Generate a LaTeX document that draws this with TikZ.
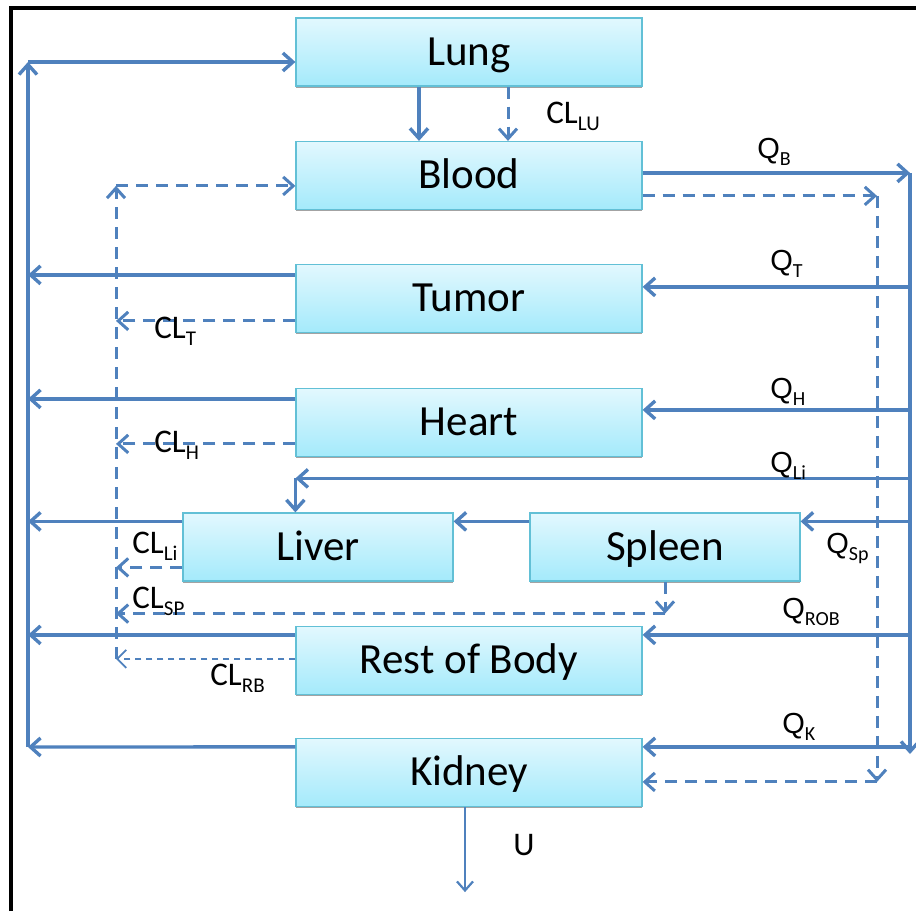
\documentclass[tikz,border=0pt]{standalone}
\usepackage{fontspec}
\setmainfont{Carlito}
\newfontfamily\arialf{Liberation Sans}
\usetikzlibrary{arrows.meta,shadows}
\definecolor{arrowblue}{HTML}{4F81BD}
\definecolor{boxtop}{HTML}{E2F8FE}
\definecolor{boxbot}{HTML}{A4EAFB}
\definecolor{boxline}{HTML}{62C0D6}
\newcommand{\cllab}[2]{#1\raisebox{-3.5pt}{\fontsize{10.5}{10}\selectfont #2}}
\newcommand{\qlab}[2]{{\arialf #1}\raisebox{-3.5pt}{\fontsize{10}{10}\selectfont #2}}
\tikzset{
  organ/.style={rectangle, top color=boxtop, bottom color=boxbot, draw=boxline,
    line width=0.6pt, minimum height=34pt, inner sep=0pt,
    text height=16pt, text depth=2.7pt,
    font=\fontsize{21.5}{24}\selectfont,
    drop shadow={shadow xshift=0pt, shadow yshift=-0.9pt, fill=black!45, opacity=0.8}},
  wide/.style={organ, minimum width=173pt},
  narrow/.style={organ, minimum width=135pt},
  arr/.style={draw=arrowblue, line width=1.7pt, -{Straight Barb[length=5pt,width=9pt]}},
  darr/.style={arr, line width=1.5pt, dash pattern=on 6pt off 4pt},
  tarr/.style={draw=arrowblue, line width=0.9pt, dash pattern=on 3pt off 2.5pt, -{Straight Barb[length=4.5pt,width=9pt]}},
  karr/.style={draw=arrowblue, line width=1.1pt, -{Straight Barb[length=4.5pt,width=8pt]}},
  clabel/.style={anchor=base west, inner sep=0pt, font=\fontsize{16.5}{16}\selectfont},
  qlabel/.style={anchor=base west, inner sep=0pt, font=\fontsize{14.5}{14}\selectfont},
}
\begin{document}
\begin{tikzpicture}[x=0.5pt, y=-0.5pt]
\useasboundingbox (0,0) rectangle (916,911);
% frame
\draw[line width=1.6pt, black] (11,911) -- (11,8) -- (916,8);

% organs
\node[wide] (Lung) at (469,52) {Lung};
\node[wide] (Blood) at (469,175.5) {Blood};
\node[wide] (Tumor) at (469,298.5) {Tumor};
\node[wide] (Heart) at (469,422.5) {Heart};
\node[narrow] (Liver) at (318,547) {Liver};
\node[narrow] (Spleen) at (665,547) {Spleen};
\node[wide] (ROB) at (469,660.5) {Rest of Body};
\node[wide] (Kidney) at (469,772.5) {Kidney};

% reference lines
\coordinate (Ltop) at (28,62);
\coordinate (Lbot) at (28,747);
\coordinate (Rtop) at (910,173);
\coordinate (Rbot) at (910,754);
\coordinate (D) at (116,0);
\coordinate (RD) at (877,0);

% lung -> blood
\draw[arr] ([xshift=-25pt]Lung.south) -- ([xshift=-25pt]Blood.north);
\draw[darr] ([xshift=19.5pt]Lung.south) -- ([xshift=19.5pt]Blood.north);

% left venous return
\draw[arr] ([yshift=-4.5pt]Kidney.north west) coordinate (k1) -- (Lbot);
\draw[arr] (Lbot) -- (Ltop);
\draw[arr] (Ltop) -- (Lung.west |- Ltop);
\draw[arr] ([yshift=-5.5pt]Tumor.north west) coordinate (t1) -- (t1 -| Ltop);
\draw[arr] ([yshift=-5.5pt]Heart.north west) coordinate (h1) -- (h1 -| Ltop);
\draw[arr] ([yshift=-4.5pt]Liver.north west) coordinate (l1) -- (l1 -| Ltop);
\draw[arr] ([yshift=-4.5pt]ROB.north west) coordinate (r1) -- (r1 -| Ltop);

% arterial supply (right)
\draw[arr] ([yshift=-16pt]Blood.north east) coordinate (b1) -- (b1 -| Rtop);
\draw[arr] (Rtop) -- (Rbot);
\coordinate (t2) at ([yshift=-11.5pt]Tumor.north east);
\coordinate (h2) at ([yshift=-11pt]Heart.north east);
\coordinate (s2) at ([yshift=-4.5pt]Spleen.north east);
\coordinate (r2) at ([yshift=-4.5pt]ROB.north east);
\coordinate (k2) at ([yshift=-4.5pt]Kidney.north east);
\coordinate (li) at ([xshift=56.5pt]Liver.north west);
\coordinate (li2) at ([yshift=17pt]li);
\draw[arr] (t2 -| Rtop) -- (t2);
\draw[arr] (h2 -| Rtop) -- (h2);
\draw[arr] (li2 -| Rtop) -- (li2);
\draw[arr] (li2) -- (li);
\draw[arr] (s2 -| Rtop) -- (s2);
\draw[arr] (r2 -| Rtop) -- (r2);
\draw[arr] (k2 -| Rtop) -- (k2);
\draw[arr] ([yshift=-4.5pt]Spleen.north west) -- ([yshift=-4.5pt]Liver.north east);

% dashed blood -> kidney
\coordinate (b2) at ([yshift=-27.5pt]Blood.north east);
\coordinate (k3) at ([yshift=-22pt]Kidney.north east);
\draw[darr] (b2) -- (b2 -| RD);
\draw[darr] (b2 -| RD) -- (k3 -| RD);
\draw[darr] (k3 -| RD) -- (k3);

% dashed clearance return (left)
\coordinate (bl) at ([yshift=-22.5pt]Blood.north west);
\coordinate (r3) at ([yshift=-16.5pt]ROB.north west);
\coordinate (s3) at ([yshift=-16pt]Spleen.south);
\draw[darr] ([yshift=-28.5pt]Tumor.north west) coordinate (t3) -- (t3 -| D);
\draw[darr] ([yshift=-28pt]Heart.north west) coordinate (h3) -- (h3 -| D);
\draw[darr] ([yshift=-27.5pt]Liver.north west) coordinate (l3) -- (l3 -| D);
\draw[darr] (Spleen.south) -- (s3);
\draw[darr] (s3) -- (s3 -| D);
\draw[tarr] (r3) -- (r3 -| D);
\draw[darr] (r3 -| D) -- (bl -| D);
\draw[darr] (bl -| D) -- (bl);

% urine
\coordinate (U) at ([xshift=-2pt, yshift=-42.5pt]Kidney.south);
\draw[karr] ([xshift=-2pt]Kidney.south) -- (U);

% labels
\node[clabel] (lCLLU) at (546,123) {\cllab{CL}{LU}};
\node[qlabel] (lQB) at (757,158) {\qlab{Q}{B}};
\node[qlabel] (lQT) at (770,270) {\qlab{Q}{T}};
\node[clabel] (lCLT) at (154,338) {\cllab{CL}{T}};
\node[qlabel] (lQH) at (770,398) {\qlab{Q}{H}};
\node[clabel] (lCLH) at (154,452) {\cllab{CL}{H}};
\node[qlabel] (lQLi) at (770,472) {\qlab{Q}{Li}};
\node[clabel] (lCLLi) at (132,553) {\cllab{CL}{Li}};
\node[qlabel] (lQSp) at (826,553) {\qlab{Q}{Sp}};
\node[clabel] (lCLSP) at (132,608) {\cllab{CL}{SP}};
\node[qlabel] (lQROB) at (782,618) {\qlab{Q}{ROB}};
\node[clabel] (lCLRB) at (210,685) {\cllab{CL}{RB}};
\node[qlabel] (lQK) at (782,733) {\qlab{Q}{K}};
\node[clabel] (lU) at (513,855) {U};
\end{tikzpicture}
\end{document}
